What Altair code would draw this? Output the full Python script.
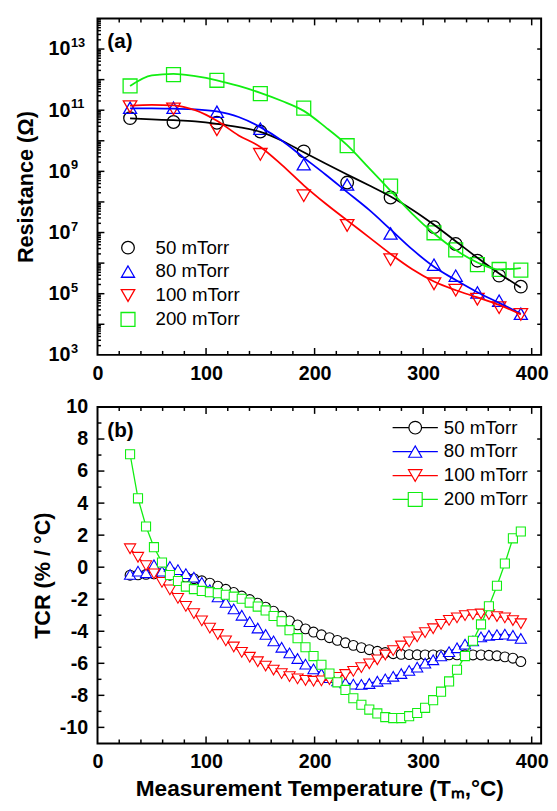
import altair as alt
import pandas as pd

FONT = "Liberation Sans"
SERIES = ["50 mTorr", "80 mTorr", "100 mTorr", "200 mTorr"]
COLORS = ["#000000", "#0000ff", "#ff0000", "#11ee11"]
SHAPES = ["circle", "triangle-up", "triangle-down", "square"]

# ---------------- panel (a): resistance ----------------
T_A = [30, 70, 110, 150, 190, 230, 270, 310, 330, 350, 370, 390]
R_50 = [5.5e10, 4.1e10, 3.9e10, 2.0e10, 4.5e9, 4.3e8, 1.4e8, 1.5e7, 4.2e6, 1.2e6, 3.9e5, 1.7e5]
R_80 = [1.2e11, 1.2e11, 8.9e10, 2.5e10, 1.7e9, 3.7e8, 9.3e6, 8.9e5, 3.9e5, 1.1e5, 5.9e4, 2.2e4]
R_100 = [1.3e11, 1.1e11, 2.3e10, 3.6e9, 1.6e8, 1.7e7, 1.3e6, 2.1e5, 1.3e5, 6.6e4, 3.5e4, 2.1e4]
R_200 = [6.2e11, 1.45e12, 9.5e11, 3.5e11, 1.17e11, 6.9e9, 3.3e8, 9.8e6, 2.7e6, 8.9e5, 6.2e5, 5.9e5]

T_FIT = [30, 50, 70, 90, 110, 130, 150, 170, 190, 210, 230, 250, 270, 290, 310, 330, 350, 370, 390]
FIT_50 = [5.4e10, 5.0e10, 4.7e10, 4.3e10, 3.6e10, 2.8e10, 1.95e10, 1.0e10, 4.2e9, 1.8e9, 7.9e8, 3.5e8,
          1.5e8, 5.6e7, 1.8e7, 5.2e6, 1.5e6, 4.6e5, 1.6e5]
FIT_80 = [1.15e11, 1.15e11, 1.12e11, 1.07e11, 9.1e10, 6.0e10, 2.8e10, 1.0e10, 2.8e9, 7.9e8, 2.1e8, 5.6e7,
          1.26e7, 2.8e6, 7.6e5, 2.8e5, 1.12e5, 5.0e4, 2.2e4]
FIT_100 = [1.4e11, 1.5e11, 1.45e11, 1.0e11, 4.5e10, 1.5e10, 6.3e9, 1.6e9, 3.5e8, 8.9e7, 2.5e7, 7.1e6,
           2.0e6, 6.3e5, 2.5e5, 1.3e5, 7.6e4, 4.3e4, 2.1e4]
FIT_200 = [6.2e11, 1.38e12, 1.55e12, 1.29e12, 9.5e11, 6.2e11, 3.7e11, 2.0e11, 9.5e10, 2.8e10, 7.2e9, 1.3e9,
           2.3e8, 4.1e7, 9.3e6, 2.7e6, 1.05e6, 6.2e5, 6.9e5]

# ---------------- panel (b): TCR ----------------
T_B = [30.0, 37.3, 44.7, 52.0, 59.4, 66.7, 74.1, 81.4, 88.8, 96.1,
       103.5, 110.8, 118.2, 125.5, 132.9, 140.2, 147.6, 154.9, 162.2, 169.6,
       176.9, 184.3, 191.6, 199.0, 206.3, 213.7, 221.0, 228.4, 235.7, 243.1,
       250.4, 257.8, 265.1, 272.4, 279.8, 287.1, 294.5, 301.8, 309.2, 316.5,
       323.9, 331.2, 338.6, 345.9, 353.3, 360.6, 368.0, 375.3, 382.7, 390.0]
TCR_50 = [-0.50, -0.48, -0.45, -0.42, -0.45, -0.50, -0.55, -0.62, -0.72, -0.85,
          -1.00, -1.18, -1.38, -1.58, -1.80, -2.02, -2.25, -2.50, -2.75, -3.05,
          -3.35, -3.60, -3.85, -4.05, -4.22, -4.40, -4.57, -4.72, -4.88, -5.02,
          -5.15, -5.25, -5.33, -5.40, -5.44, -5.46, -5.47, -5.48, -5.48, -5.48,
          -5.47, -5.47, -5.47, -5.48, -5.48, -5.50, -5.53, -5.60, -5.68, -5.89]
TCR_80 = [-0.45, -0.25, -0.35, 0.15, -0.25, 0.05, -0.15, -0.40, -0.62, -0.95,
          -1.40, -1.85, -2.20, -2.60, -3.00, -3.40, -3.80, -4.20, -4.60, -5.00,
          -5.35, -5.70, -6.05, -6.35, -6.65, -6.90, -7.10, -7.22, -7.30, -7.32,
          -7.26, -7.12, -6.97, -6.81, -6.64, -6.44, -6.24, -5.99, -5.78, -5.54,
          -5.27, -5.03, -4.80, -4.60, -4.35, -4.25, -4.21, -4.18, -4.25, -4.45]
TCR_100 = [1.15, 0.62, 0.10, -0.42, -0.95, -1.42, -1.95, -2.45, -2.90, -3.35,
           -3.80, -4.20, -4.60, -4.98, -5.32, -5.62, -5.90, -6.17, -6.42, -6.64,
           -6.83, -6.97, -7.07, -7.12, -7.10, -7.02, -6.88, -6.70, -6.50, -6.27,
           -6.03, -5.78, -5.48, -5.21, -4.92, -4.66, -4.35, -4.08, -3.84, -3.57,
           -3.32, -3.16, -3.02, -2.96, -2.92, -2.96, -3.08, -3.16, -3.33, -3.53]
TCR_200 = [7.05, 4.30, 2.54, 1.25, 0.29, -0.49, -0.86, -1.21, -1.37, -1.48,
           -1.56, -1.62, -1.72, -1.84, -1.97, -2.21, -2.46, -2.70, -3.05, -3.38,
           -3.93, -4.43, -5.00, -5.55, -6.09, -6.64, -7.19, -7.66, -8.18, -8.59,
           -8.89, -9.13, -9.36, -9.42, -9.42, -9.30, -9.10, -8.78, -8.30, -7.77,
           -7.13, -6.40, -5.55, -4.59, -3.57, -2.44, -1.16, 0.23, 1.80, 2.23]

# axis tick values
X_LABELS = [0, 100, 200, 300, 400]
X_MINOR = [20, 40, 60, 80, 120, 140, 160, 180, 220, 240, 260, 280, 320, 340, 360, 380]
X_MAJOR = [100, 200, 300, 400]
EXPONENTS = [3, 5, 7, 9, 11, 13]
DECADES = [1e4, 1e5, 1e6, 1e7, 1e8, 1e9, 1e10, 1e11, 1e12, 1e13]
LOG_MINOR = [m * 10.0 ** d for d in range(3, 14) for m in range(2, 10)]
TCR_LABELS = [-10, -8, -6, -4, -2, 0, 2, 4, 6, 8, 10]
TCR_MAJOR = [-10, -8, -6, -4, -2, 0, 2, 4, 6, 8]
TCR_MINOR = [-9, -7, -5, -3, -1, 1, 3, 5, 7, 9]

W, H = 451, 342
X_MAX = 408.7

# ---------------- data frames ----------------
pts_a = pd.DataFrame({
    "T": T_A * 4,
    "R": R_50 + R_80 + R_100 + R_200,
    "series": sum([[s] * len(T_A) for s in SERIES], []),
})
fit_a = pd.DataFrame({
    "T": T_FIT * 4,
    "R": FIT_50 + FIT_80 + FIT_100 + FIT_200,
    "series": sum([[s] * len(T_FIT) for s in SERIES], []),
})
tcr_b = pd.DataFrame({
    "T": T_B * 4,
    "TCR": TCR_50 + TCR_80 + TCR_100 + TCR_200,
    "series": sum([[s] * len(T_B) for s in SERIES], []),
})
legend_df = pd.DataFrame({"series": SERIES, "row": [0, 1, 2, 3]})

xs = alt.Scale(domain=[0, X_MAX], nice=False, zero=False)
stroke_enc = alt.Stroke("series:N", scale=alt.Scale(domain=SERIES, range=COLORS), legend=None)
shape_enc = alt.Shape("series:N", scale=alt.Scale(domain=SERIES, range=SHAPES), legend=None)


def xa():
    return alt.X("T:Q", scale=xs,
                 axis=alt.Axis(values=X_LABELS, title=None, labelPadding=9, labelFlush=False))


def xb():
    return alt.X("T:Q", scale=xs,
                 axis=alt.Axis(values=X_LABELS, title="Measurement Temperature (T\u2098,\u00b0C)",
                               labelPadding=9, labelFlush=False, titleY=53, titleFontSize=23,
                               titleBaseline="alphabetic"))


def ya():
    return alt.Y("R:Q", scale=alt.Scale(type="log", domain=[1e3, 1e14], nice=False),
                 axis=alt.Axis(values=[10.0 ** e for e in EXPONENTS], labelExpr="'10'",
                               labelPadding=28, title="Resistance (\u03a9)",
                               titleX=-83, titleBaseline="top"))


def yb():
    return alt.Y("TCR:Q", scale=alt.Scale(domain=[-11, 10], nice=False, zero=False),
                 axis=alt.Axis(values=TCR_LABELS, labelExpr="'' + datum.value",
                               labelPadding=10, title="TCR (% / \u00b0C)",
                               titleX=-66, titleBaseline="top"))


def vals(name, values):
    return pd.DataFrame({name: values})


def hticks(values, field, yenc, length, right=False):
    x0 = W if right else 0
    x1 = W - length if right else length
    return alt.Chart(vals(field, values)).mark_rule(color="black", strokeWidth=1.5).encode(
        y=yenc(), x=alt.value(x0), x2=alt.value(x1))


def vticks(values, xenc, length):
    top = alt.Chart(vals("T", values)).mark_rule(color="black", strokeWidth=1.5).encode(
        x=xenc(), y=alt.value(0), y2=alt.value(length))
    bot = alt.Chart(vals("T", values)).mark_rule(color="black", strokeWidth=1.5).encode(
        x=xenc(), y=alt.value(H), y2=alt.value(H - length))
    return [top, bot]


def panel_label(text):
    return alt.Chart(pd.DataFrame({"t": [text]})).mark_text(
        align="left", baseline="middle", font=FONT, fontSize=21, fontWeight="bold", color="black"
    ).encode(x=alt.value(10), y=alt.value(24), text="t:N")


# ---------------- panel (a) ----------------
sizes_a = [165, 200, 200, 140]
points_a = alt.Chart(pts_a).mark_point(filled=False, strokeWidth=1.3, opacity=1).encode(
    x=xa(), y=ya(), stroke=stroke_enc, shape=shape_enc,
    size=alt.Size("series:N", scale=alt.Scale(domain=SERIES, range=sizes_a), legend=None),
)
lines_a = alt.Chart(fit_a).mark_line(strokeWidth=1.8, interpolate="monotone").encode(
    x=xa(), y=ya(), stroke=stroke_enc, detail="series:N")
exp_df = pd.DataFrame({"R": [10.0 ** e for e in EXPONENTS], "e": [str(e) for e in EXPONENTS]})
exps = alt.Chart(exp_df).mark_text(align="left", baseline="middle", font=FONT, fontSize=13,
                                   fontWeight="bold", color="black", dy=-6).encode(
    x=alt.value(-27), y=ya(), text="e:N")

ticks_a = [
    hticks(DECADES, "R", ya, 7),
    hticks(LOG_MINOR, "R", ya, 3.5),
    hticks(DECADES, "R", ya, 4, right=True),
] + vticks(X_MINOR, xa, 4) + vticks(X_MAJOR, xa, 7)

ly_a = alt.Y("row:Q", scale=alt.Scale(domain=[0, 3], range=[233, 306]), axis=None)
leg_a = alt.layer(
    alt.Chart(legend_df).mark_point(filled=False, strokeWidth=1.3, opacity=1).encode(
        x=alt.value(31), y=ly_a, stroke=stroke_enc, shape=shape_enc,
        size=alt.Size("series:N", scale=alt.Scale(domain=SERIES, range=sizes_a), legend=None)),
    alt.Chart(legend_df).mark_text(align="left", baseline="middle", font=FONT, fontSize=19,
                                   color="black").encode(x=alt.value(59), y=ly_a, text="series:N"),
)

main_a = alt.layer(*ticks_a, points_a, lines_a, exps, panel_label("(a)"))
panel_a = alt.layer(main_a, leg_a).resolve_scale(y="independent").properties(width=W, height=H)

# ---------------- panel (b) ----------------
series_layers = []
sizes_b = [100, 130, 130, 85]
for s, c, sh, sz in zip(SERIES, COLORS, SHAPES, sizes_b):
    sub = tcr_b[tcr_b["series"] == s]
    series_layers.append(alt.Chart(sub).mark_line(color=c, strokeWidth=1.3).encode(x=xb(), y=yb()))
    series_layers.append(alt.Chart(sub).mark_point(shape=sh, size=sz, stroke=c, fill="white",
                                                   filled=True, strokeWidth=1.1, opacity=1)
                         .encode(x=xb(), y=yb()))

ticks_b = [
    hticks(TCR_MAJOR, "TCR", yb, 7),
    hticks(TCR_MINOR, "TCR", yb, 4),
    hticks(TCR_MAJOR, "TCR", yb, 4, right=True),
] + vticks(X_MINOR, xb, 4) + vticks(X_MAJOR, xb, 7)

ly_b = alt.Y("row:Q", scale=alt.Scale(domain=[0, 3], range=[21, 94]), axis=None)
leg_b = alt.layer(
    alt.Chart(legend_df).mark_rule(strokeWidth=1.3).encode(
        x=alt.value(300), x2=alt.value(346), y=ly_b, stroke=stroke_enc),
    alt.Chart(legend_df).mark_point(fill="white", filled=True, strokeWidth=1.2, opacity=1).encode(
        x=alt.value(323), y=ly_b, stroke=stroke_enc, shape=shape_enc,
        size=alt.Size("series:N", scale=alt.Scale(domain=SERIES, range=sizes_b), legend=None)),
    alt.Chart(legend_df).mark_text(align="left", baseline="middle", font=FONT, fontSize=19,
                                   color="black").encode(x=alt.value(352), y=ly_b, text="series:N"),
)

main_b = alt.layer(*ticks_b, *series_layers, panel_label("(b)"))
panel_b = alt.layer(main_b, leg_b).resolve_scale(y="independent").properties(width=W, height=H)

chart = alt.vconcat(panel_a, panel_b, spacing=53, bounds="flush").properties(
    padding={"left": 6, "top": 2, "right": -1, "bottom": -3}
).configure_view(stroke="black", strokeWidth=2).configure_axis(
    labelFont=FONT, labelFontWeight="bold", labelFontSize=20, labelColor="black",
    titleFont=FONT, titleFontWeight="bold", titleFontSize=22, titleColor="black",
    grid=False, domain=False, ticks=False, tickSize=0,
)

chart.save("out.html", embed_options={"renderer": "svg", "actions": False})
